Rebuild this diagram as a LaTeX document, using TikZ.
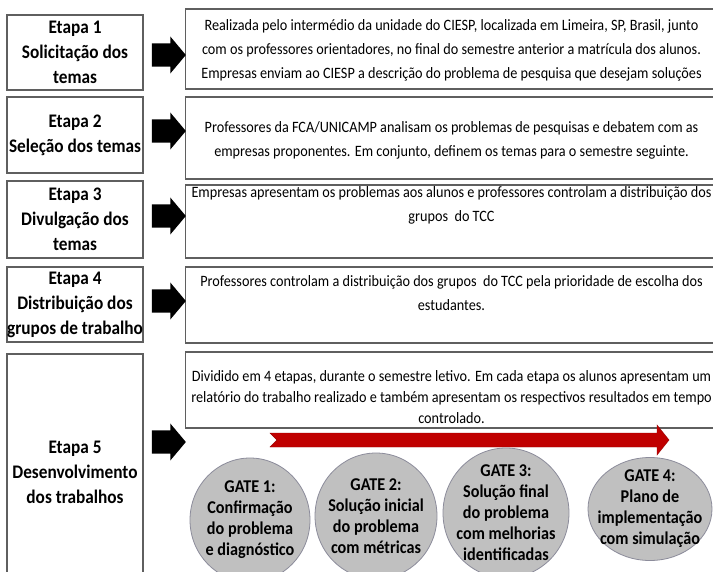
\documentclass[tikz,border=0pt]{standalone}
\usepackage{fontspec}
\setmainfont{Carlito}
\newfontfamily\altafont[FakeStretch=0.9]{Carlito}
\usepackage{xcolor}
\usetikzlibrary{shapes.geometric,shapes.arrows,calc}

\definecolor{boxline}{RGB}{95,95,95}
\definecolor{gatefill}{RGB}{192,192,192}
\definecolor{gateline}{RGB}{140,140,155}
\definecolor{redarrow}{RGB}{192,0,0}

\begin{document}
\begin{tikzpicture}[x=1pt, y=-1pt,
    etapa/.style={draw=boxline, line width=1.1pt, inner sep=0pt, minimum width=136pt,
        align=center, font=\altafont\fontsize{19.2}{25}\selectfont\bfseries},
    desc/.style={draw=boxline, line width=1.3pt, inner sep=0pt, minimum width=545pt, anchor=west},
    desctext/.style={align=center, inner sep=0pt, font=\altafont\fontsize{15.8}{24}\selectfont},
    seta/.style={single arrow, fill=black, draw=none, inner xsep=0pt, text height=8pt, text depth=8pt,
        minimum height=34pt, single arrow head extend=7pt, single arrow tip angle=100},
    gate/.style={ellipse, draw=gateline, fill=gatefill, line width=0.8pt, inner sep=0pt},
    gatetext/.style={align=center, inner sep=0pt, font=\altafont\fontsize{18}{21}\selectfont\bfseries}]
    \useasboundingbox (0,0) rectangle (713,571);
    \fill[white] (0,0) rectangle (713,571);
    \clip (0,0) rectangle (713,571);

    % etapas
    \node[etapa, minimum height=75pt] (l1) at (75,52.5) {Etapa 1\\Solicitação dos\\temas};
    \node[etapa, minimum height=76pt] (l2) at (75,135) {Etapa 2\\Seleção dos temas};
    \node[etapa, minimum height=77pt] (l3) at (75,219.5) {Etapa 3\\Divulgação dos\\temas};
    \node[etapa, minimum height=75pt] (l4) at (75,304.5) {Etapa 4\\Distribuição dos\\grupos de trabalho};
    \node[etapa, minimum height=236pt] (l5) at (75,472) {Etapa 5\\Desenvolvimento\\dos trabalhos};

    % descricoes
    \node[desc, minimum height=80pt] (r1) at (185,49) {};
    \node[desc, minimum height=82pt] (r2) at (185,138) {};
    \node[desc, minimum height=73pt] (r3) at (185,221.5) {};
    \node[desc, minimum height=76pt] (r4) at (185,305) {};
    \node[desc, minimum height=76pt] (r5) at (185,390) {};

    \node[desctext] (t1) at (451.5,50) {Realizada pelo intermédio da unidade do CIESP, localizada em Limeira, SP, Brasil, junto\\
        com os professores orientadores, no final do semestre anterior a matrícula dos alunos.\\
        Empresas enviam ao CIESP a descrição do problema de pesquisa que desejam soluções};
    \node[desctext] (t2) at (451.5,140) {Professores da FCA/UNICAMP analisam os problemas de pesquisas e debatem com as\\
        empresas proponentes. Em conjunto, definem os temas para o semestre seguinte.};
    \node[desctext] (t3) at (451.5,205.5) {Empresas apresentam os problemas aos alunos e professores controlam a distribuição dos\\
        grupos\ \ do TCC};
    \node[desctext] (t4) at (451.5,293.5) {Professores controlam a distribuição dos grupos\ \ do TCC pela prioridade de escolha dos\\
        estudantes.};
    \node[desctext, font=\altafont\fontsize{15.8}{21}\selectfont] (t5) at (451.5,397.5) {Dividido em 4 etapas, durante o semestre letivo. Em cada etapa os alunos apresentam um\\
        relatório do trabalho realizado e também apresentam os respectivos resultados em tempo\\
        controlado.};

    % setas
    \node[seta] (s1) at (164,55) {};
    \node[seta] (s2) at (164,131) {};
    \node[seta] (s3) at (164,216) {};
    \node[seta] (s4) at (164,301) {};
    \node[seta] (s5) at (164,442) {};

    % seta vermelha
    \coordinate (ini) at (270,440);
    \coordinate (fim) at (669,440);
    \fill[redarrow, draw=redarrow!80!black, line width=0.4pt]
        (ini) ++(0,-7) -- (657,433) -- (657,425) -- (fim) -- (657,455) -- (657,447)
        -- (270,447) -- ($(ini)+(7,0)$) -- cycle;

    % gates
    \node[gate, minimum width=120pt, minimum height=124pt] (g1) at (250,520)
        [label={[gatetext]center:GATE 1:\\Confirmação\\do problema\\e diagnóstico}] {};
    \node[gate, minimum width=122pt, minimum height=126pt] (g2) at (376,516)
        [label={[gatetext]center:GATE 2:\\Solução inicial\\do problema\\com métricas}] {};
    \node[gate, minimum width=126pt, minimum height=130pt] (g3) at (506,513)
        [label={[gatetext]center:GATE 3:\\Solução final\\do problema\\com melhorias\\identificadas}] {};
    \node[gate, minimum width=124pt, minimum height=103pt] (g4) at (650,509)
        [label={[gatetext]center:GATE 4:\\Plano de\\implementação\\com simulação}] {};
\end{tikzpicture}
\end{document}
